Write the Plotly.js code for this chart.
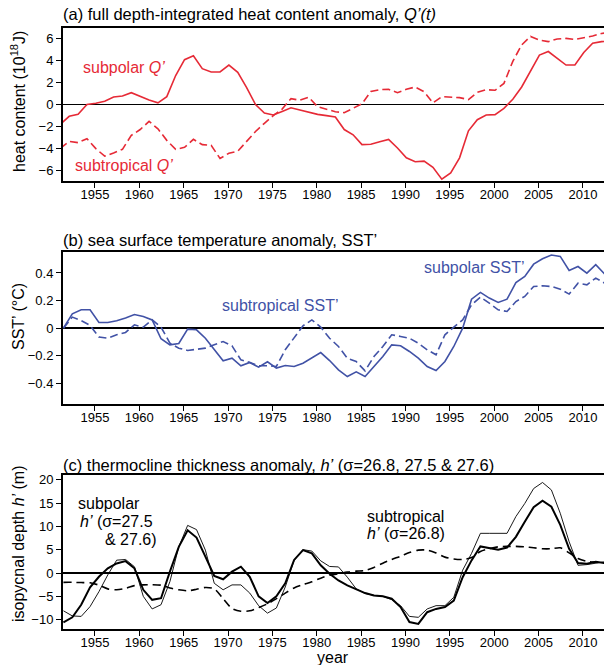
<!DOCTYPE html>
<html><head><meta charset="utf-8">
<script src="https://cdn.plot.ly/plotly-3.0.1.min.js"></script>
<style>html,body{margin:0;padding:0;background:#fff;overflow:hidden}</style>
</head><body><div id="chart" style="width:604px;height:665px"></div>
<script>
const years = [1951,1952,1953,1954,1955,1956,1957,1958,1959,1960,
  1961,1962,1963,1964,1965,1966,1967,1968,1969,1970,
  1971,1972,1973,1974,1975,1976,1977,1978,1979,1980,
  1981,1982,1983,1984,1985,1986,1987,1988,1989,1990,
  1991,1992,1993,1994,1995,1996,1997,1998,1999,2000,
  2001,2002,2003,2004,2005,2006,2007,2008,2009,2010,
  2011,2012,2013];
const tickYears = [1955,1960,1965,1970,1975,1980,1985,1990,1995,2000,2005,2010];

// (a) heat content anomaly (10^18 J)
const qSubpolar = [-1.8,-1.08,-0.9,0.0,0.12,0.3,0.69,0.78,1.08,0.72,
  0.42,0.15,0.72,2.65,4.1,4.46,3.28,2.98,2.98,3.61,
  2.95,1.54,0.0,-0.78,-0.96,-0.63,-0.3,-0.51,-0.72,-0.9,
  -1.02,-1.14,-2.29,-2.77,-3.67,-3.64,-3.4,-3.19,-3.98,-4.88,
  -5.24,-5.18,-5.75,-6.84,-6.27,-4.88,-2.41,-1.39,-0.96,-0.93,
  -0.36,0.48,1.6,3.04,4.52,4.85,4.19,3.61,3.61,4.76,
  5.6,5.75,5.8];
const qSubtropical = [-4.0,-3.37,-3.49,-3.13,-4.04,-4.73,-4.43,-4.1,-2.83,-2.29,
  -1.54,-2.23,-3.28,-4.1,-3.92,-3.19,-3.67,-3.73,-4.94,-4.46,
  -4.28,-3.34,-2.47,-1.72,-1.02,-0.42,0.54,0.39,0.66,-0.21,
  -0.42,-0.66,-0.75,-0.36,0.06,1.2,1.36,1.39,1.08,1.39,
  1.6,1.17,0.15,0.72,0.69,0.63,0.45,1.11,1.36,1.3,
  1.93,3.95,5.45,6.23,5.9,5.75,6.0,6.05,5.96,6.08,
  6.27,6.5,6.6];

// (b) SST anomaly (deg C)
const sstSubpolar = [0.0,0.104,0.133,0.133,0.041,0.041,0.053,0.073,0.099,0.085,
  0.06,-0.077,-0.121,-0.111,-0.007,-0.012,-0.073,-0.157,-0.237,-0.218,
  -0.273,-0.249,-0.283,-0.244,-0.29,-0.271,-0.278,-0.254,-0.218,-0.177,
  -0.235,-0.302,-0.351,-0.317,-0.351,-0.278,-0.206,-0.121,-0.128,-0.169,
  -0.218,-0.278,-0.307,-0.242,-0.133,0.0,0.21,0.259,0.218,0.186,
  0.21,0.331,0.375,0.464,0.503,0.53,0.52,0.418,0.447,0.399,
  0.46,0.392,0.37];
const sstSubtropical = [0.0,0.08,0.055,0.02,-0.065,-0.073,-0.048,-0.031,0.024,0.007,
  0.06,0.007,-0.109,-0.145,-0.162,-0.152,-0.145,-0.121,-0.097,-0.128,
  -0.23,-0.249,-0.273,-0.273,-0.278,-0.157,-0.073,0.017,0.06,0.007,
  -0.073,-0.133,-0.218,-0.242,-0.31,-0.206,-0.133,-0.048,-0.06,-0.073,
  -0.109,-0.157,-0.193,-0.048,0.007,0.06,0.169,0.225,0.181,0.133,
  0.121,0.193,0.23,0.302,0.307,0.302,0.283,0.247,0.326,0.314,
  0.363,0.326,0.34];

// (c) isopycnal depth anomaly (m)
const hSubpolar275 = [-10.6,-9.5,-6.8,-3.05,-0.8,1.0,2.05,2.55,1.0,-3.6,
  -5.75,-5.4,0.3,5.6,9.15,7.6,3.5,-0.64,-1.35,0.28,
  1.35,-0.8,-5.0,-6.45,-5.0,-2.2,2.8,4.9,4.2,1.65,
  -0.15,-1.6,-2.65,-3.4,-4.3,-4.8,-5.0,-5.5,-7.3,-10.5,
  -10.9,-8.4,-7.7,-7.3,-5.9,-0.9,2.7,5.7,5.4,5.0,
  5.45,7.75,11.0,14.1,15.5,14.2,10.3,5.2,2.15,2.0,
  2.4,2.15,2.1];
const hSubpolar276 = [-8.1,-9.2,-9.3,-7.2,-4.0,-0.4,2.75,2.9,1.35,-5.0,
  -7.7,-6.8,-1.85,5.6,10.2,9.3,4.9,-2.2,-3.6,-2.55,
  -2.55,-4.3,-7.0,-8.6,-7.5,-3.0,2.7,5.0,4.7,2.6,
  1.4,1.3,-0.9,-3.4,-4.4,-4.8,-5.0,-5.7,-7.0,-9.3,
  -9.5,-7.7,-7.0,-7.0,-5.2,0.6,4.2,8.5,8.5,8.5,
  8.5,12.1,14.9,18.1,19.4,17.8,12.8,6.7,1.65,1.8,
  2.15,2.4,2.4];
const hSubtropical = [-2.0,-2.0,-2.05,-2.1,-2.6,-3.4,-3.6,-3.3,-2.7,-2.55,
  -2.5,-2.6,-3.2,-3.6,-3.8,-3.5,-3.1,-3.4,-5.5,-7.6,
  -8.2,-8.1,-7.4,-6.6,-5.5,-4.3,-3.2,-2.5,-1.9,-1.1,
  -0.5,-0.15,0.2,0.4,0.55,1.2,2.1,2.9,3.6,4.4,
  4.9,4.9,4.3,3.4,3.0,2.9,3.3,4.6,5.2,5.6,
  5.7,5.7,5.6,5.4,5.2,5.2,5.4,4.3,3.1,2.5,
  2.3,2.15,2.1];

const RED = '#e62a36', BLUE = '#4152a6', BLACK = '#000000';
const FONT = 'Liberation Sans, Arial, Helvetica, sans-serif';
const W = 604, H = 665, ML = 63;
const PW = W - ML;
const px = x => (x - ML) / PW;
const py = y => 1 - y / H;
const qOff = 0.1, hOff = 0.45;
const xq = years.map(v => v + qOff);
const xh = years.map(v => v + hOff);

function line(x, y, xa, ya, color, width, dash, shape) {
  return {x, y, xaxis: xa, yaxis: ya, mode: 'lines', hoverinfo: 'skip', showlegend: false,
    line: {color, width, dash: dash || 'solid', shape: shape || 'linear', smoothing: 0.8}};
}

const traces = [
  line(xq, qSubtropical, 'x', 'y', RED, 1.6, '8px,4px'),
  line(xq, qSubpolar, 'x', 'y', RED, 1.6),
  line(xh, sstSubtropical, 'x2', 'y2', BLUE, 1.6, '8px,4px'),
  line(xh, sstSubpolar, 'x2', 'y2', BLUE, 1.6),
  line(xh, hSubtropical, 'x3', 'y3', BLACK, 1.6, '8px,5px', 'spline'),
  line(xh, hSubpolar276, 'x3', 'y3', BLACK, 0.9),
  line(xh, hSubpolar275, 'x3', 'y3', BLACK, 2.0)
];

function xax(anchor) {
  return {anchor, domain: [0, 1], range: [1951.4, 2012.38], tickvals: tickYears,
    ticks: 'outside', ticklen: 5, tickwidth: 1, tickcolor: BLACK, ticklabelstandoff: -5,
    showline: true, linewidth: 2, linecolor: BLACK, mirror: true,
    showgrid: false, zeroline: false, tickfont: {family: FONT, size: 13, color: BLACK}};
}
function yax(anchor, top, bottom, range, tickvals) {
  return {anchor, domain: [py(bottom), py(top)], range, tickvals,
    ticks: 'outside', ticklen: 5, tickwidth: 1, tickcolor: BLACK,
    showline: true, linewidth: 2, linecolor: BLACK, mirror: false,
    showgrid: false, zeroline: true, zerolinecolor: BLACK, zerolinewidth: 1.4,
    tickfont: {family: FONT, size: 13, color: BLACK}};
}

function ann(text, x, y, opts) {
  return Object.assign({text, xref: 'paper', yref: 'paper', x: px(x), y: py(y),
    xanchor: 'left', yanchor: 'middle', showarrow: false,
    font: {family: FONT, size: 16, color: BLACK}}, opts || {});
}
const TF = {family: FONT, size: 16.5, color: BLACK};

const annotations = [
  ann('(a) full depth-integrated heat content anomaly, <i>Q’(t)</i>', 61, 14, {font: TF}),
  ann('(b) sea surface temperature anomaly, SST’', 61, 240, {font: TF}),
  ann('(c) thermocline thickness anomaly, <i>h’</i> (σ=26.8, 27.5 &amp; 27.6)', 61, 465, {font: TF}),
  ann('heat content (10<sup>18</sup>J)', 18, 102, {xanchor: 'center', textangle: -90}),
  ann('SST’ (°C)', 18, 317, {xanchor: 'center', textangle: -90}),
  ann('isopycnal depth <i>h’</i> (m)', 18, 544, {xanchor: 'center', textangle: -90}),
  ann('year', 333, 657, {xanchor: 'center'}),
  ann('subpolar <i>Q’</i>', 124, 67, {xanchor: 'center', font: {family: FONT, size: 16, color: RED}}),
  ann('subtropical <i>Q’</i>', 124, 165, {xanchor: 'center', font: {family: FONT, size: 16, color: RED}}),
  ann('subtropical SST’', 220, 305, {font: {family: FONT, size: 16, color: BLUE}}),
  ann('subpolar SST’', 474, 267, {xanchor: 'center', font: {family: FONT, size: 16, color: BLUE}}),
  ann('subpolar', 76, 503),
  ann('<i>h’</i> (σ=27.5', 78, 521),
  ann('&amp; 27.6)', 103, 539),
  ann('subtropical', 365, 516),
  ann('<i>h’</i> (σ=26.8)', 365, 533)
];

const layout = {
  width: W, height: H,
  margin: {l: ML, r: 0, t: 0, b: 0},
  paper_bgcolor: '#ffffff', plot_bgcolor: '#ffffff',
  font: {family: FONT, size: 13, color: BLACK},
  showlegend: false,
  xaxis: xax('y'), xaxis2: xax('y2'), xaxis3: xax('y3'),
  yaxis: yax('x', 28, 181, [-7, 7], [-6, -4, -2, 0, 2, 4, 6]),
  yaxis2: yax('x2', 252.3, 404, [-0.55, 0.55], [-0.4, -0.2, 0, 0.2, 0.4]),
  yaxis3: yax('x3', 475, 629, [-12, 21], [-10, -5, 0, 5, 10, 15, 20]),
  annotations
};

Plotly.newPlot('chart', traces, layout, {displayModeBar: false, staticPlot: true});
</script>
</body></html>
